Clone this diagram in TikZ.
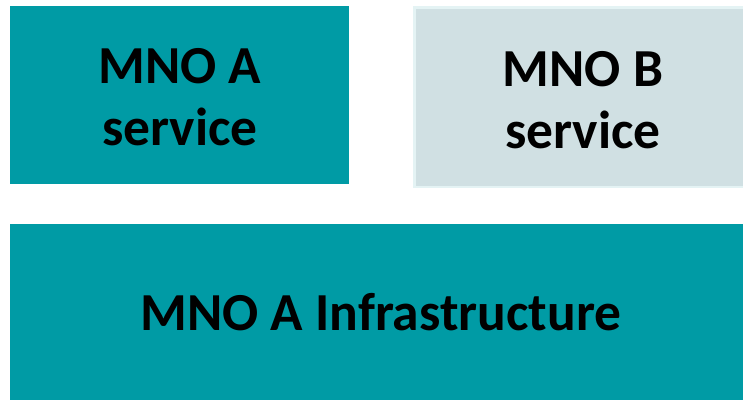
\documentclass[tikz,border=0pt]{standalone}
\usepackage{fontspec}
\setmainfont{Carlito}
\definecolor{tealA}{RGB}{0,155,165}
\definecolor{lightB}{RGB}{208,224,227}
\definecolor{edgeB}{RGB}{228,243,244}
\tikzset{
  box/.style={inner sep=0pt, align=center, font=\bfseries\fontsize{53.5}{62}\selectfont, text=black},
}
\begin{document}
\begin{tikzpicture}[x=1pt,y=-1pt]
\useasboundingbox (0,0) rectangle (743,400);
\fill[tealA] (10,6) rectangle (349,184);
\node[box] (a) at (180,97) {MNO A\\service};
\fill[edgeB] (413,6) rectangle (743,188);
\fill[lightB] (416,9) rectangle (743,186);
\node[box] (b) at (583,100) {MNO B\\service};
\fill[tealA] (10,224) rectangle (743,400);
\node[box] (c) at (381,312) {MNO A Infrastructure};
\end{tikzpicture}
\end{document}
